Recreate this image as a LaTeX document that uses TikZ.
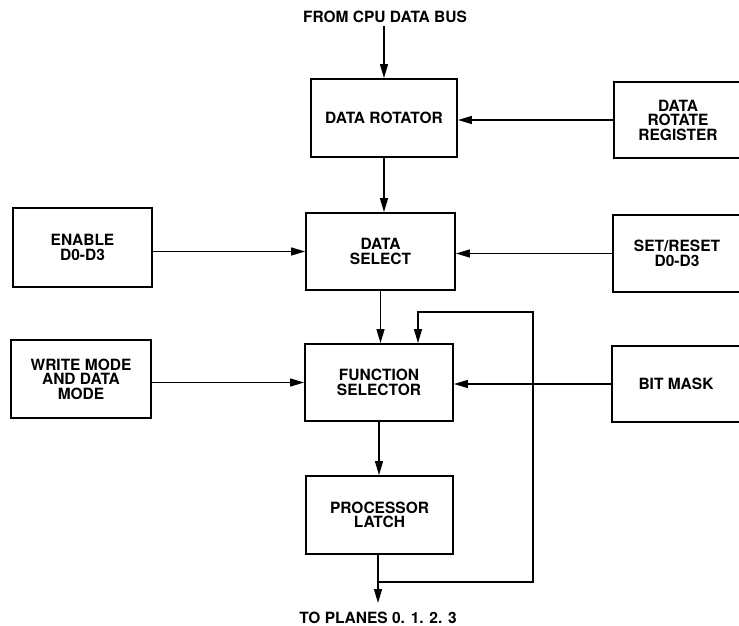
\documentclass[tikz,border=0pt]{standalone}
\usepackage{fontspec}
\setmainfont{TeX Gyre Heros}
\usetikzlibrary{arrows.meta}
\begin{document}
\begin{tikzpicture}[x=1pt,y=-1pt,
  blk/.style={draw, line width=1.9pt, inner sep=0pt, align=center,
    font=\fontsize{15.5}{14.5}\selectfont\bfseries},
  lbl/.style={inner sep=0pt, font=\fontsize{15.5}{14.5}\selectfont\bfseries},
  arr/.style={line width=1.4pt, -{Triangle[length=14pt,width=8pt]}},
  ln/.style={line width=1.4pt}]
\useasboundingbox (0,0) rectangle (739,626);
\clip (0,0) rectangle (739,626);
% blocks
\node[blk, minimum width=146pt, minimum height=78pt] (dr) at (384,118) {DATA ROTATOR};
\node[blk, minimum width=128pt, minimum height=76pt] (drr) at (678,120) {DATA\\ROTATE\\REGISTER};
\node[blk, minimum width=139pt, minimum height=79pt] (en) at (82.5,247.5) {ENABLE\\D0-D3};
\node[blk, minimum width=149pt, minimum height=77pt] (ds) at (380.5,251.5) {DATA\\SELECT};
\node[blk, minimum width=128pt, minimum height=77pt] (sr) at (677,253.5) {SET/RESET\\D0-D3};
\node[blk, minimum width=140pt, minimum height=78pt] (wm) at (81,379) {WRITE MODE\\AND DATA\\MODE};
\node[blk, minimum width=148pt, minimum height=77pt] (fs) at (379,382.5) {FUNCTION\\SELECTOR};
\node[blk, minimum width=128pt, minimum height=76pt] (bm) at (676,384) {BIT MASK};
\node[blk, minimum width=147pt, minimum height=78pt] (pl) at (379.5,515) {PROCESSOR\\LATCH};
% labels
\node[lbl] (cpu) at (385,17) {FROM CPU DATA BUS};
\node[lbl] (planes) at (378,618) {TO PLANES 0. 1. 2. 3};
% connectors
\draw[arr] (dr.north |- cpu.south) ++(0,3) -- (dr.north);
\draw[arr] (drr.west) -- (drr.west -| dr.east);
\draw[arr] (dr.south) -- (dr.south |- ds.north);
\draw[arr] (ds.west -| en.east) -- (ds.west);
\draw[arr] (sr.west) -- (sr.west -| ds.east);
\draw[arr] (ds.south) -- (ds.south |- fs.north);
\draw[arr] (fs.west -| wm.east) -- (fs.west);
\draw[arr] (bm.west) -- (bm.west -| fs.east);
\draw[arr] (fs.south) -- (fs.south |- pl.north);
\coordinate (out) at (378,603);
\draw[arr] (pl.south -| out) -- (out);
\coordinate (fb1) at (378,582);
\coordinate (fb2) at (533,582);
\coordinate (fb3) at (533,312);
\coordinate (fb4) at (418,312);
\draw[arr] (fb1) -- (fb2) -- (fb3) -- (fb4) -- (fb4 |- fs.north);
\end{tikzpicture}
\end{document}
